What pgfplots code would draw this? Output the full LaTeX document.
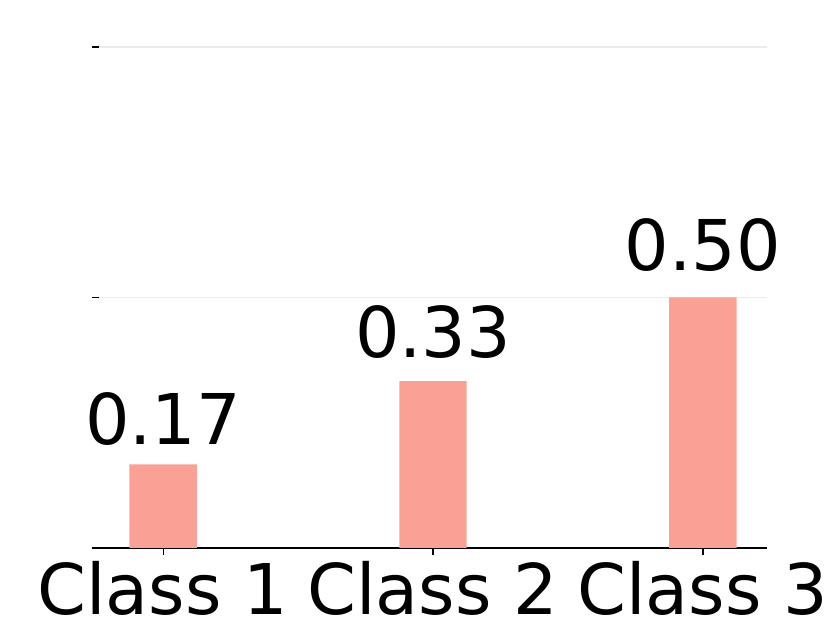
\documentclass[border=0pt]{standalone}
\usepackage{pgfplots}
\pgfplotsset{compat=1.18}
\usepackage{fontspec}
\setmainfont{DejaVu Sans}
\definecolor{barsalmon}{RGB}{251,160,149}
\definecolor{gridgray}{RGB}{235,235,235}
\begin{document}
\begin{tikzpicture}
\begin{axis}[
    at={(99pt,75pt)}, anchor=south west,
    scale only axis, width=668pt, height=501pt,
    xmin=-0.2375, xmax=2.2375, ymin=0, ymax=1,
    axis x line*=bottom, axis y line*=left,
    y axis line style={draw=none},
    x axis line style={line width=1.2pt, -},
    xtick={0,1,2}, xticklabels={Class 1, Class 2, Class 3},
    ytick={0,0.5,1}, yticklabels={},
    tick align=outside, major tick length=7pt,
    tick style={black, line width=1.2pt},
    ymajorgrids, grid style={gridgray, line width=1.5pt},
    xticklabel style={font=\fontsize{70}{84}\selectfont, inner sep=0pt, yshift=-6pt},
    nodes near coords,
    visualization depends on={y \as \rawy},
    nodes near coords style={font=\fontsize{70}{84}\selectfont, anchor=south, inner sep=0pt,
      yshift={(15.5+21*\rawy)*1pt},
      /pgf/number format/.cd, fixed, fixed zerofill, precision=2, assume math mode=true},
  ]
  \addplot[ybar, bar width=0.25, fill=barsalmon, draw=none]
    coordinates {(0,0.1667) (1,0.3333) (2,0.5)};
\end{axis}
\pgfresetboundingbox
\useasboundingbox (0,0) rectangle (830pt,623pt);
\end{tikzpicture}
\end{document}
